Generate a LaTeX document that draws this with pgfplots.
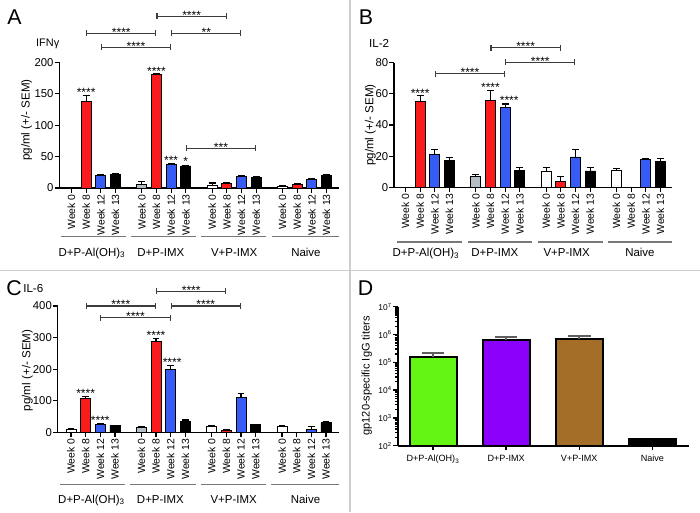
\documentclass[border=0pt]{standalone}
\usepackage{fontspec}
\setmainfont{Liberation Sans}
\usepackage{pgfplots}
\pgfplotsset{compat=1.18}
\usetikzlibrary{arrows.meta}

\definecolor{cred}{RGB}{250,28,28}
\definecolor{cblue}{RGB}{55,92,245}
\definecolor{cgray}{RGB}{180,190,196}
\definecolor{cgreen}{RGB}{100,245,20}
\definecolor{cpurple}{RGB}{138,0,250}
\definecolor{cbrown}{RGB}{165,110,40}
\definecolor{cdiv}{RGB}{205,205,205}
\definecolor{cgline}{RGB}{120,120,120}
\definecolor{cbrk}{RGB}{60,60,60}
\definecolor{cerr}{RGB}{95,95,95}

\tikzset{
  stars/.style={anchor=base, font=\fontsize{9}{9}\selectfont, inner sep=0pt, text=black},
  gline/.style={draw=cgline, line width=1pt},
  glab/.style={anchor=base, font=\fontsize{8.6}{10}\selectfont, inner sep=0pt},
}

\pgfplotsset{
  panel/.style={
    scale only axis, clip=false,
    axis x line*=bottom, axis y line*=left,
    axis line style={line width=1pt},
    tick align=outside, major tick length=3.6pt,
    tick style={black, line width=0.9pt},
    ybar, bar width=7.5pt,
    ymin=0,
    xtick={0,1,2,3,4.8,5.8,6.8,7.8,9.6,10.6,11.6,12.6,14.4,15.4,16.4,17.4},
    xticklabels={Week 0,Week 8,Week 12,Week 13,Week 0,Week 8,Week 12,Week 13,Week 0,Week 8,Week 12,Week 13,Week 0,Week 8,Week 12,Week 13},
    xticklabel style={rotate=90, anchor=east, font=\fontsize{7.8}{9}\selectfont, inner sep=1pt},
    yticklabel style={font=\fontsize{8.5}{10}\selectfont, inner sep=0.6pt},
    /pgf/number format/assume math mode=true,
    ylabel={pg/ml (+/- SEM)},
    ylabel style={font=\fontsize{8.7}{10}\selectfont, anchor=center},
  },
  wk/.style={fill=#1, draw=black, line width=0.7pt, bar shift=0pt,
    error bars/.cd, y dir=plus, y explicit,
    error bar style={line width=0.8pt, black},
    error mark options={rotate=90, mark size=2.6pt, line width=0.8pt, black}},
  dbar/.style={fill=#1, draw=black, line width=1.5pt, bar shift=0pt,
    error bars/.cd, y dir=plus, y explicit,
    error bar style={line width=1.5pt, cerr},
    error mark options={rotate=90, mark size=8.5pt, line width=1.5pt, cerr}},
}

\newcommand{\brk}[4]{\draw[cbrk, line width=0.8pt, {Bar[width=4.5pt]}-{Bar[width=4.5pt]}] (axis cs:#1,#3) -- node[stars, yshift=-2.2pt] {#4} (axis cs:#2,#3);}

\begin{document}
\begin{tikzpicture}
\path[use as bounding box] (0,0) rectangle (525pt,384pt);
\draw[cdiv, line width=1.1pt] (262.5pt,0pt) -- (262.5pt,384pt);
\draw[cdiv, line width=1.1pt] (0pt,180.98pt) -- (525pt,180.98pt);

% ---------------- Panel A ----------------
\begin{axis}[panel, at={(44.48pt,243pt)}, anchor=south west,
  width=209.8pt, height=94.3pt, xmin=-0.833, xmax=18.26, ymax=200,
  ytick={0,50,100,150,200},
  ylabel style={at={(axis description cs:-0.1166,0.54)}}]
\addplot[wk=white] coordinates {(9.6,4) +- (0,4) (14.4,2) +- (0,2)};
\addplot[wk=cgray] coordinates {(4.8,5) +- (0,5)};
\addplot[wk=cred] coordinates {(1,137) +- (0,9.5) (5.8,180) +- (0,1.5) (10.6,7) +- (0,1) (15.4,6) +- (0,1)};
\addplot[wk=cblue] coordinates {(2,20) +- (0,2) (6.8,37) +- (0,1.5) (11.6,19) +- (0,1) (16.4,14) +- (0,0.5)};
\addplot[wk=black] coordinates {(3,22) +- (0,1) (7.8,35) +- (0,1) (12.6,16) +- (0,3) (17.4,20) +- (0,1)};
\node[stars] at (axis cs:1,146) {****};
\node[stars] at (axis cs:5.8,179) {****};
\node[stars] at (axis cs:6.8,37) {***};
\node[stars] at (axis cs:7.8,35) {*};
\brk{1}{5.8}{246}{****}
\brk{2}{6.8}{223.5}{****}
\brk{5.8}{10.6}{273}{****}
\brk{6.8}{11.6}{246}{**}
\brk{7.8}{12.6}{63}{***}
\draw[gline] ([yshift=-36.4pt]axis cs:-0.75,0) -- ([yshift=-36.4pt]axis cs:3.7,0);
\draw[gline] ([yshift=-36.4pt]axis cs:4.05,0) -- ([yshift=-36.4pt]axis cs:8.5,0);
\draw[gline] ([yshift=-36.4pt]axis cs:8.85,0) -- ([yshift=-36.4pt]axis cs:13.3,0);
\draw[gline] ([yshift=-36.4pt]axis cs:13.65,0) -- ([yshift=-36.4pt]axis cs:18.26,0);
\node[glab] at ([yshift=-51.3pt]axis cs:1.4,0) {D+P-Al(OH)\textsubscript{3}};
\node[glab] at ([yshift=-51.3pt]axis cs:6.1,0) {D+P-IMX};
\node[glab] at ([yshift=-51.3pt]axis cs:11.1,0) {V+P-IMX};
\node[glab] at ([yshift=-51.3pt]axis cs:16.0,0) {Naive};
\end{axis}

% ---------------- Panel B ----------------
\begin{axis}[panel, at={(295.5pt,243.5pt)}, anchor=south west,
  width=208.3pt, height=93.45pt, xmin=-0.785, xmax=18.17, ymax=80,
  ytick={0,20,40,60,80},
  ylabel style={at={(axis description cs:-0.085,0.5)}}]
\addplot[wk=white] coordinates {(9.6,10.5) +- (0,2) (14.4,11) +- (0,1)};
\addplot[wk=cgray] coordinates {(4.8,7) +- (0,1)};
\addplot[wk=cred] coordinates {(1,55) +- (0,4) (5.8,56) +- (0,6) (10.6,3.5) +- (0,3.5)};
\addplot[wk=cblue] coordinates {(2,21) +- (0,3) (6.8,51.5) +- (0,2) (11.6,19.5) +- (0,5) (16.4,18) +- (0,0.3)};
\addplot[wk=black] coordinates {(3,17) +- (0,2) (7.8,11) +- (0,1.5) (12.6,10.5) +- (0,2) (17.4,16.5) +- (0,2)};
\node[stars] at (axis cs:1,58) {****};
\node[stars] at (axis cs:5.8,61.5) {****};
\node[stars] at (axis cs:7.08,53.5) {****};
\brk{2}{6.8}{73}{****}
\brk{5.8}{10.6}{89.5}{****}
\brk{6.8}{11.6}{80.4}{****}
\draw[gline] ([yshift=-41pt]axis cs:-0.55,0) -- ([yshift=-41pt]axis cs:3.85,0);
\draw[gline] ([yshift=-41pt]axis cs:4.25,0) -- ([yshift=-41pt]axis cs:8.65,0);
\draw[gline] ([yshift=-41pt]axis cs:9.05,0) -- ([yshift=-41pt]axis cs:13.45,0);
\draw[gline] ([yshift=-41pt]axis cs:13.85,0) -- ([yshift=-41pt]axis cs:18.17,0);
\node[glab] at ([yshift=-52pt]axis cs:1.4,0) {D+P-Al(OH)\textsubscript{3}};
\node[glab] at ([yshift=-52pt]axis cs:6.1,0) {D+P-IMX};
\node[glab] at ([yshift=-52pt]axis cs:11.0,0) {V+P-IMX};
\node[glab] at ([yshift=-52pt]axis cs:16.0,0) {Naive};
\end{axis}

% ---------------- Panel C ----------------
\begin{axis}[panel, at={(43.28pt,59.78pt)}, anchor=south west,
  width=211pt, height=94.7pt, xmin=-0.908, xmax=18.29, ymax=400,
  ytick={0,100,200,300,400},
  ylabel style={at={(axis description cs:-0.108,0.49)}}]
\addplot[wk=white] coordinates {(0,8) +- (0,5) (9.6,20) +- (0,3) (14.4,18) +- (0,4)};
\addplot[wk=cgray] coordinates {(4.8,15) +- (0,3)};
\addplot[wk=cred] coordinates {(1,108) +- (0,4) (5.8,287) +- (0,10) (10.6,5) +- (0,3)};
\addplot[wk=cblue] coordinates {(2,25) +- (0,2) (6.8,200) +- (0,12) (11.6,110) +- (0,13) (16.4,10) +- (0,9)};
\addplot[wk=black] coordinates {(3,22) +- (0,1) (7.8,35) +- (0,4) (12.6,24) +- (0,2) (17.4,31) +- (0,2)};
\node[stars] at (axis cs:1,110) {****};
\node[stars] at (axis cs:2,25) {****};
\node[stars] at (axis cs:5.8,294) {****};
\node[stars] at (axis cs:6.9,207) {****};
\brk{1}{5.8}{400}{****}
\brk{2}{6.8}{363}{****}
\brk{5.8}{10.6}{447}{****}
\brk{6.8}{11.6}{400}{****}
\draw[gline] ([yshift=-39pt]axis cs:-0.75,0) -- ([yshift=-39pt]axis cs:3.7,0);
\draw[gline] ([yshift=-39pt]axis cs:4.05,0) -- ([yshift=-39pt]axis cs:8.5,0);
\draw[gline] ([yshift=-39pt]axis cs:8.85,0) -- ([yshift=-39pt]axis cs:13.3,0);
\draw[gline] ([yshift=-39pt]axis cs:13.65,0) -- ([yshift=-39pt]axis cs:18.29,0);
\node[glab] at ([yshift=-53.3pt]axis cs:1.4,0) {D+P-Al(OH)\textsubscript{3}};
\node[glab] at ([yshift=-53.3pt]axis cs:6.1,0) {D+P-IMX};
\node[glab] at ([yshift=-53.3pt]axis cs:11.1,0) {V+P-IMX};
\node[glab] at ([yshift=-53.3pt]axis cs:16.0,0) {Naive};
\end{axis}

% ---------------- Panel D ----------------
\begin{axis}[scale only axis, clip=false, at={(298.3pt,49.7pt)}, anchor=south west,
  width=218.7pt, height=104.25pt,
  ymode=log, log origin=infty, ymin=100, ymax=1e7, xmin=-0.483, xmax=3.506,
  axis x line*=bottom, axis y line*=left,
  axis line style={line width=1.5pt},
  tick align=outside, major tick length=3.5pt, minor tick length=2pt,
  tick style={black, line width=1pt},
  ybar, bar width=35.25pt,
  xtick={0,1,2,3},
  xticklabels={D+P-Al(OH)\textsubscript{3},D+P-IMX,V+P-IMX,Naive},
  xticklabel style={font=\fontsize{6.8}{8}\selectfont},
  ytick={1e2,1e3,1e4,1e5,1e6,1e7},
  yticklabels={10\textsuperscript{2},10\textsuperscript{3},10\textsuperscript{4},10\textsuperscript{5},10\textsuperscript{6},10\textsuperscript{7}},
  yticklabel style={font=\fontsize{6.3}{7}\selectfont, inner sep=0.8pt},
  ylabel={gp120-specific IgG titers},
  ylabel style={font=\fontsize{8.3}{10}\selectfont, at={(axis description cs:-0.106,0.503)}, anchor=center}]
\addplot[dbar=cgreen] coordinates {(0,1.6e5) +- (0,0.5e5)};
\addplot[dbar=cpurple] coordinates {(1,6.3e5) +- (0,2.0e5)};
\addplot[dbar=cbrown] coordinates {(2,6.9e5) +- (0,1.9e5)};
\addplot[fill=black, draw=black, line width=1.5pt, bar shift=0pt] coordinates {(3,170)};
\end{axis}

% ---------------- titles ----------------
\begin{scope}[shift={(0pt,384pt)}, x=0.75pt, y=-0.75pt]
\node[font=\fontsize{16}{16}\selectfont, inner sep=0pt] at (14.5,17.2) {A};
\node[font=\fontsize{16}{16}\selectfont, inner sep=0pt] at (366,17.2) {B};
\node[font=\fontsize{16}{16}\selectfont, inner sep=0pt] at (14,288.3) {C};
\node[font=\fontsize{16}{16}\selectfont, inner sep=0pt] at (365.5,288.3) {D};
\node[font=\fontsize{8.2}{10}\selectfont, inner sep=0pt] at (47.7,43.5) {IFNγ};
\node[font=\fontsize{8.7}{10}\selectfont, inner sep=0pt] at (379.2,43.3) {IL-2};
\node[font=\fontsize{8.7}{10}\selectfont, inner sep=0pt] at (33.3,288.3) {IL-6};
\end{scope}
\end{tikzpicture}
\end{document}
